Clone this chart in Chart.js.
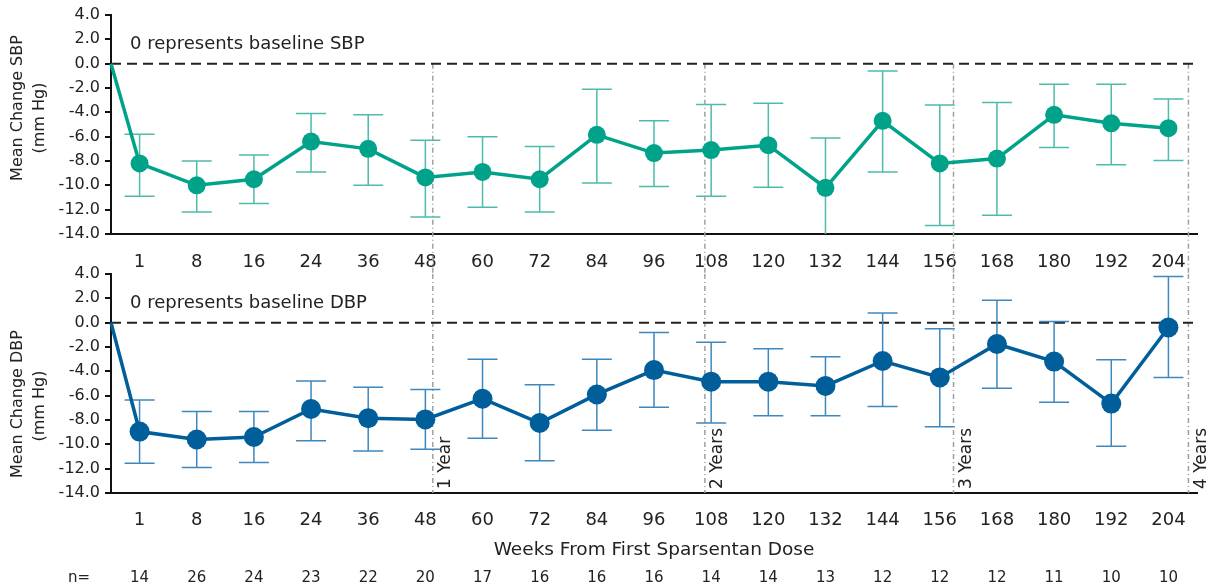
<!DOCTYPE html>
<html>
<head>
<meta charset="utf-8">
<script src="https://cdn.jsdelivr.net/npm/chart.js@4.4.1/dist/chart.umd.min.js"></script>
<style>
  html, body { margin: 0; padding: 0; background: #fff; }
  #wrap { position: relative; width: 1208px; height: 588px; }
  canvas { position: absolute; left: 0; top: 0; }
</style>
</head>
<body>
<div id="wrap">
  <canvas id="sbpChart" width="1208" height="588"></canvas>
  <canvas id="dbpChart" width="1208" height="588"></canvas>
</div>
<script>
// weeks from first dose and patients per visit
const weeks = [1, 8, 16, 24, 36, 48, 60, 72, 84, 96, 108, 120, 132, 144, 156, 168, 180, 192, 204];
const nPatients = [14, 26, 24, 23, 22, 20, 17, 16, 16, 16, 14, 14, 13, 12, 12, 12, 11, 10, 10];

// systolic: mean change and error bar ends
const sbpMean = [-8.2, -10.0, -9.5, -6.4, -7.0, -9.35, -8.9, -9.5, -5.85, -7.35, -7.1, -6.7, -10.2, -4.7, -8.2, -7.8, -4.2, -4.9, -5.3];
const sbpLow = [-10.9, -12.2, -11.5, -8.9, -10.0, -12.6, -11.8, -12.2, -9.8, -10.1, -10.9, -10.15, -14.3, -8.9, -13.3, -12.45, -6.9, -8.3, -7.95];
const sbpHigh = [-5.8, -8.0, -7.5, -4.1, -4.2, -6.3, -6.0, -6.8, -2.1, -4.7, -3.35, -3.25, -6.1, -0.6, -3.4, -3.2, -1.7, -1.7, -2.9];

// diastolic
const dbpMean = [-8.95, -9.6, -9.4, -7.1, -7.85, -7.95, -6.25, -8.25, -5.9, -3.9, -4.85, -4.85, -5.2, -3.15, -4.5, -1.75, -3.2, -6.65, -0.4];
const dbpLow = [-11.55, -11.9, -11.5, -9.7, -10.55, -10.4, -9.5, -11.35, -8.85, -6.95, -8.25, -7.65, -7.65, -6.9, -8.55, -5.4, -6.55, -10.15, -4.5];
const dbpHigh = [-6.35, -7.3, -7.3, -4.8, -5.3, -5.5, -3.0, -5.1, -3.0, -0.8, -1.6, -2.15, -2.8, 0.8, -0.5, 1.85, 0.1, -3.05, 3.8];

// year marks, in category units along the week axis
const yearLabels = ['1 Year', '2 Years', '3 Years', '4 Years'];
const yearPos = [5.63, 10.39, 14.74, 18.85];

Chart.defaults.font.family = '"DejaVu Sans", Verdana, sans-serif';
Chart.defaults.color = '#222';

const bpExtras = {
  id: 'bpExtras',
  beforeDatasetsDraw(chart, args, opts) {
    const { ctx, chartArea: a, scales: { x, y } } = chart;
    const y0 = y.getPixelForValue(0);
    ctx.save();

    // year reference lines
    ctx.strokeStyle = '#a0a0a0';
    ctx.lineWidth = 1.5;
    ctx.setLineDash([5, 3, 1, 3]);
    const top = opts.upper ? y0 : a.top;
    const bottom = opts.upper ? a.bottom + 40 : a.bottom;
    yearPos.forEach(p => {
      const px = x.getPixelForValue(p);
      ctx.beginPath();
      ctx.moveTo(px, top);
      ctx.lineTo(px, bottom);
      ctx.stroke();
    });

    // baseline
    ctx.strokeStyle = '#222';
    ctx.lineWidth = 2;
    ctx.setLineDash([10, 6]);
    ctx.beginPath();
    ctx.moveTo(a.left, y0);
    ctx.lineTo(a.right, y0);
    ctx.stroke();
    ctx.setLineDash([]);

    ctx.fillStyle = '#222';
    ctx.font = '18px "DejaVu Sans"';
    ctx.textBaseline = 'middle';
    ctx.textAlign = 'left';
    ctx.fillText(opts.note, a.left + 19, y.getPixelForValue(1.6));

    // error bars
    ctx.beginPath();
    ctx.rect(a.left, a.top - 10, a.width, a.height + 10);
    ctx.clip();
    ctx.strokeStyle = opts.barColor;
    ctx.lineWidth = 1.5;
    opts.low.forEach((lo, i) => {
      const px = x.getPixelForValue(i + 0.5);
      const pl = y.getPixelForValue(lo);
      const ph = y.getPixelForValue(opts.high[i]);
      ctx.beginPath();
      ctx.moveTo(px, pl); ctx.lineTo(px, ph);
      ctx.moveTo(px - 15, pl); ctx.lineTo(px + 15, pl);
      ctx.moveTo(px - 15, ph); ctx.lineTo(px + 15, ph);
      ctx.stroke();
    });
    ctx.restore();
  },
  afterDraw(chart, args, opts) {
    const { ctx, chartArea: a, scales: { x } } = chart;
    ctx.save();
    ctx.fillStyle = '#222';
    ctx.textBaseline = 'middle';

    // two-line y axis title
    ctx.font = '16px "DejaVu Sans"';
    ctx.textAlign = 'center';
    opts.yTitle.forEach((t, i) => {
      ctx.save();
      ctx.translate(18 + i * 22, opts.titleY[i]);
      ctx.rotate(-Math.PI / 2);
      ctx.fillText(t, 0, 0);
      ctx.restore();
    });

    if (!opts.upper) {
      // year captions, rotated
      ctx.font = '17px "DejaVu Sans"';
      ctx.textAlign = 'left';
      yearPos.forEach((p, i) => {
        ctx.save();
        ctx.translate(x.getPixelForValue(p) + 13, a.bottom - 4);
        ctx.rotate(-Math.PI / 2);
        ctx.fillText(yearLabels[i], 0, 0);
        ctx.restore();
      });

      // patients per visit
      ctx.font = '15px "DejaVu Sans"';
      ctx.textAlign = 'center';
      ctx.fillText('n=', a.left - 32, 578);
      nPatients.forEach((n, i) => {
        ctx.fillText(String(n), x.getPixelForValue(i + 0.5), 578);
      });
    }
    ctx.restore();
  }
};

function makeChart(id, mean, low, high, cfg) {
  return new Chart(document.getElementById(id), {
    type: 'line',
    data: {
      datasets: [{
        data: [{ x: 0, y: 0 }].concat(weeks.map((w, i) => ({ x: i + 0.5, y: mean[i] }))),
        borderColor: cfg.color,
        backgroundColor: cfg.color,
        borderWidth: 3.5,
        tension: 0,
        pointRadius: ctx => ctx.dataIndex === 0 ? 0 : cfg.radius,
        pointBorderWidth: 0,
        clip: false
      }]
    },
    options: {
      responsive: false,
      animation: false,
      devicePixelRatio: 1,
      layout: { padding: cfg.padding },
      plugins: {
        legend: { display: false },
        tooltip: { enabled: false },
        bpExtras: {
          upper: cfg.upper, note: cfg.note, low: low, high: high, barColor: cfg.barColor,
          yTitle: cfg.yTitle, titleY: cfg.titleY
        }
      },
      scales: {
        x: {
          type: 'linear',
          min: 0,
          max: weeks.length,
          afterBuildTicks: s => { s.ticks = weeks.map((w, i) => ({ value: i + 0.5 })); },
          afterFit: s => { s.height = cfg.xHeight; },
          ticks: {
            autoSkip: false,
            maxRotation: 0,
            padding: cfg.tickPad,
            font: { size: 18 },
            callback: (v, i) => String(weeks[i])
          },
          grid: { display: false, drawTicks: false },
          border: { color: '#111', width: 2 },
          title: cfg.xTitle
            ? { display: true, text: cfg.xTitle, font: { size: 18.5 }, padding: { top: 0, bottom: 12 } }
            : { display: false }
        },
        y: {
          min: -14,
          max: 4,
          afterFit: s => { s.width = 111; },
          ticks: {
            stepSize: 2,
            padding: 5,
            font: { size: 16 },
            callback: v => v.toFixed(1)
          },
          grid: { drawOnChartArea: false, drawTicks: true, tickLength: 6, color: '#111', lineWidth: 2 },
          border: { color: '#111', width: 2 }
        }
      }
    },
    plugins: [bpExtras]
  });
}

makeChart('sbpChart', sbpMean, sbpLow, sbpHigh, {
  upper: true,
  color: '#00a38a',
  barColor: '#4dbcaa',
  radius: 9,
  note: '0 represents baseline SBP',
  yTitle: ['Mean Change SBP', '(mm Hg)'],
  titleY: [108, 118],
  padding: { left: 0, right: 11, top: 15, bottom: 314 },
  xHeight: 40,
  tickPad: 18
});

makeChart('dbpChart', dbpMean, dbpLow, dbpHigh, {
  upper: false,
  color: '#005e9b',
  barColor: '#3f88bf',
  radius: 10,
  note: '0 represents baseline DBP',
  yTitle: ['Mean Change DBP', '(mm Hg)'],
  titleY: [404, 406],
  xTitle: 'Weeks From First Sparsentan Dose',
  padding: { left: 0, right: 11, top: 274, bottom: 15 },
  xHeight: 80,
  tickPad: 17
});
</script>
</body>
</html>
